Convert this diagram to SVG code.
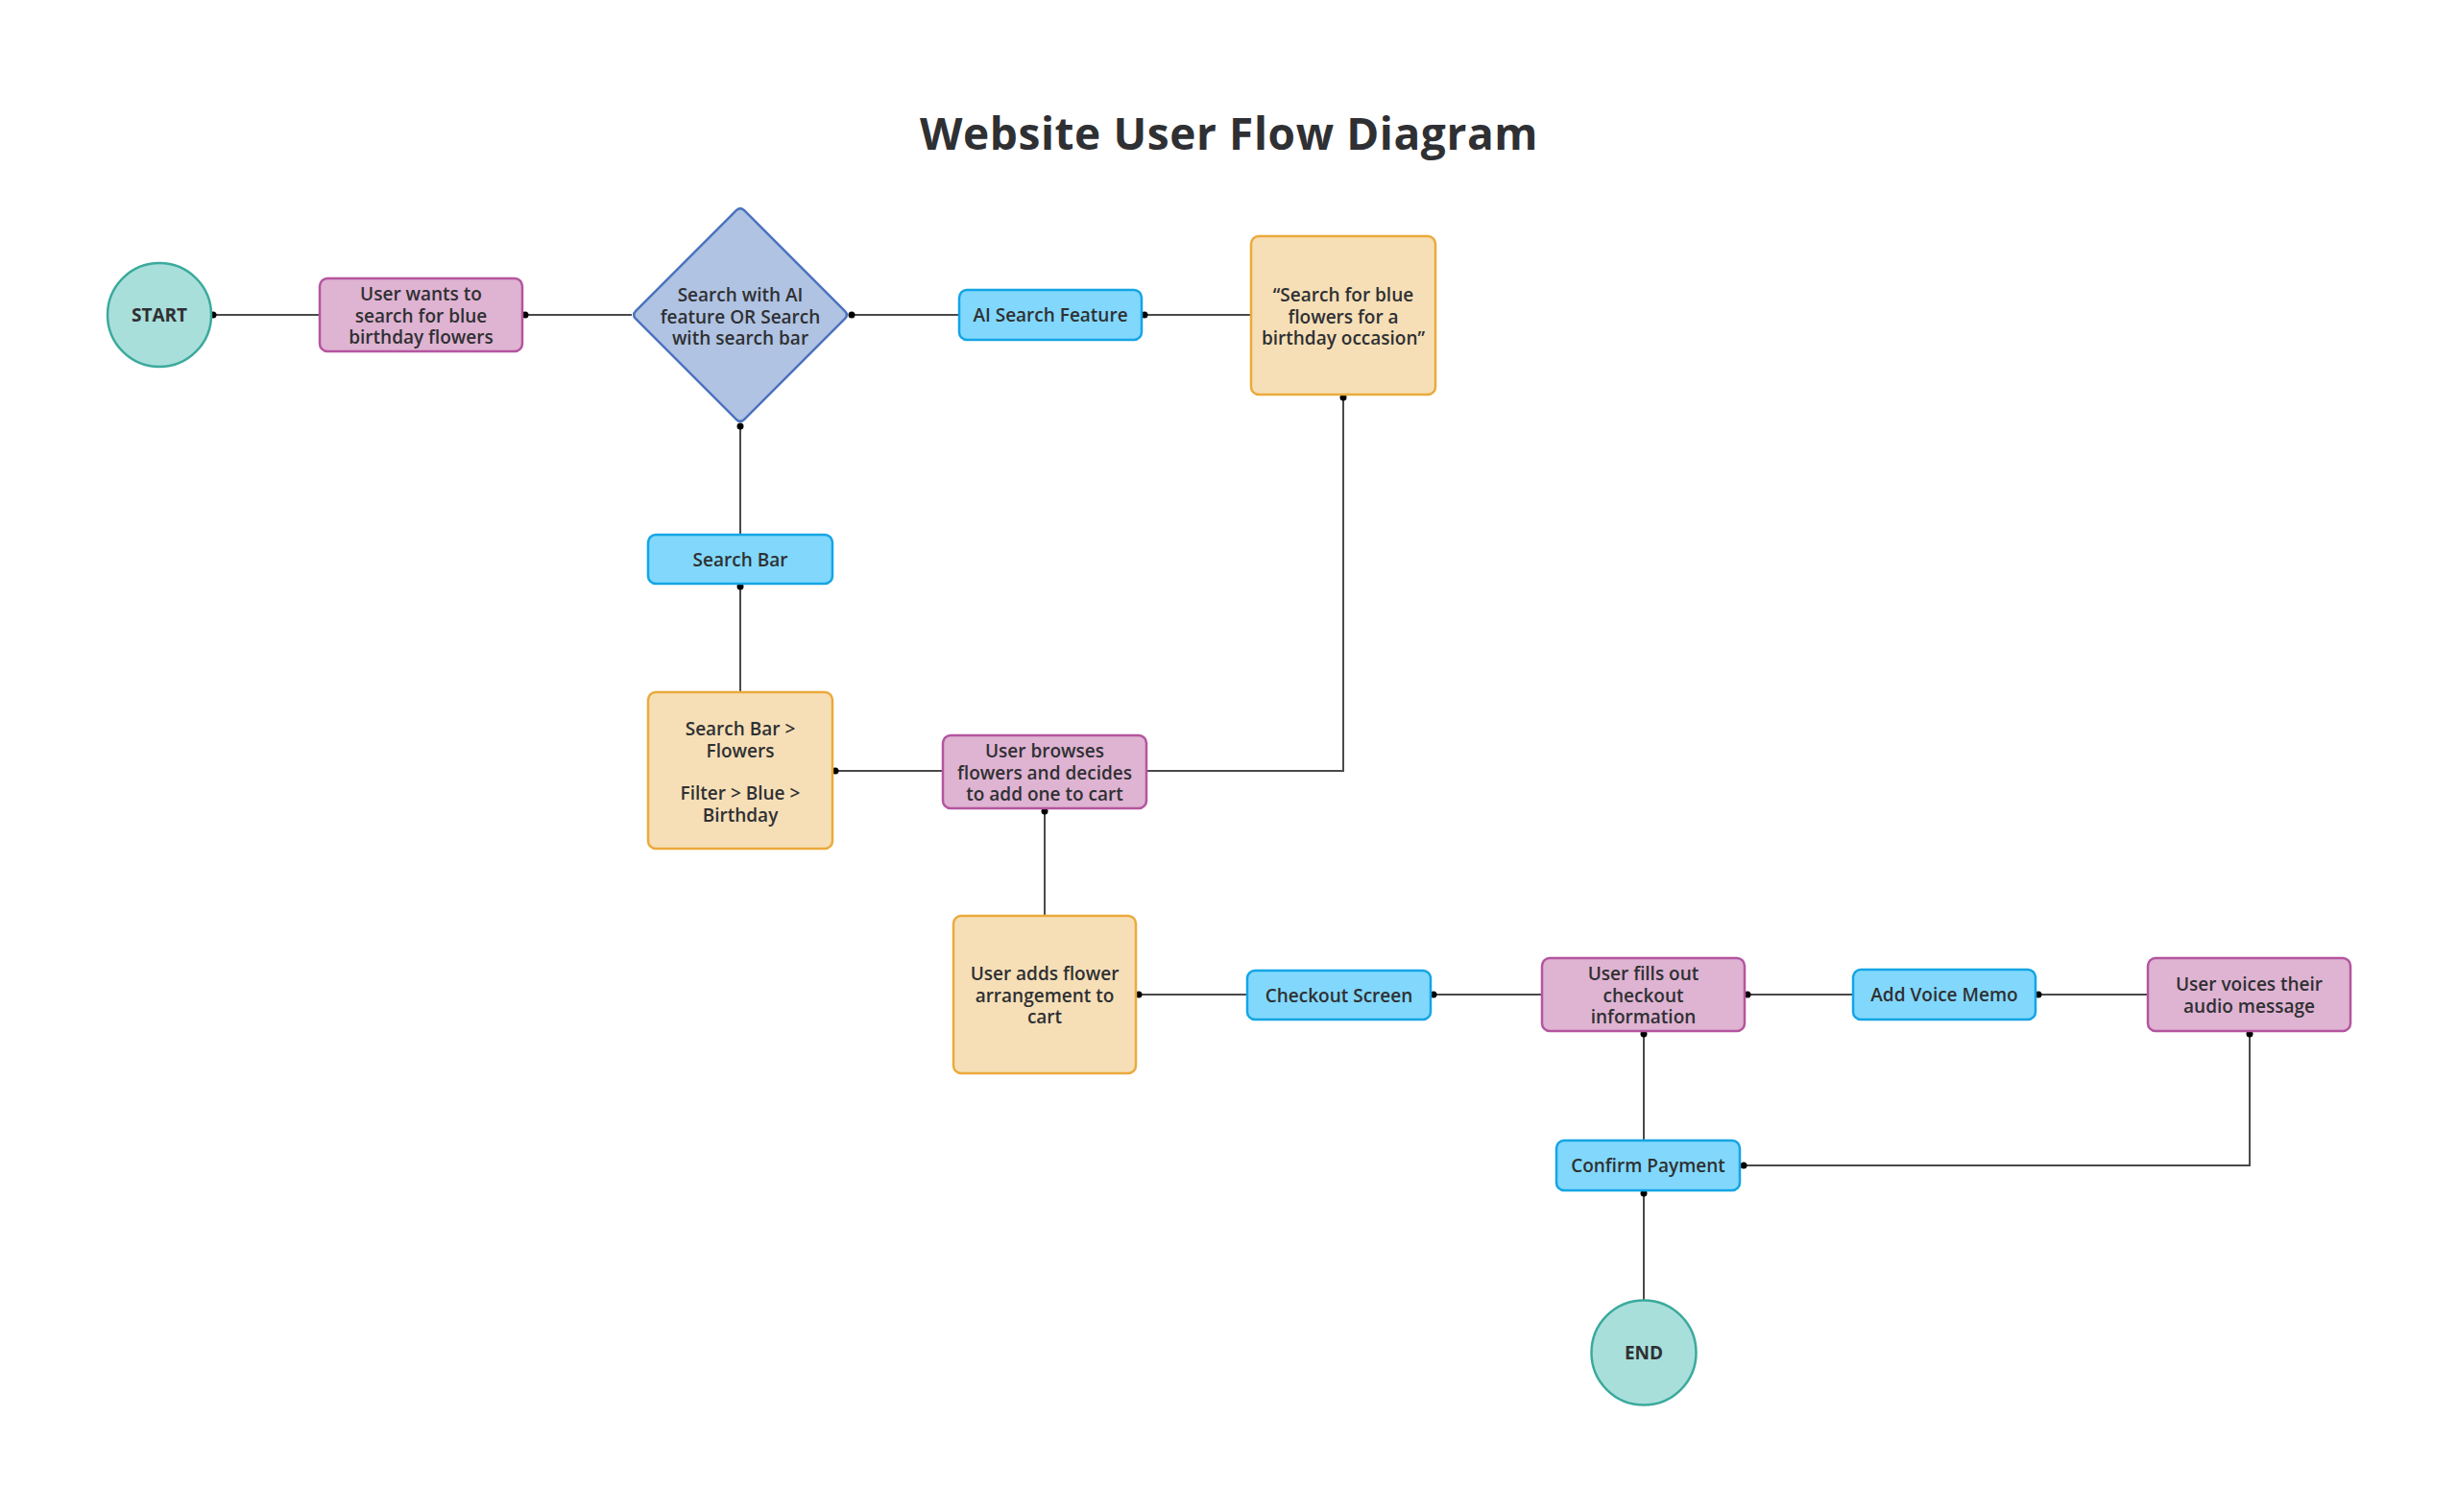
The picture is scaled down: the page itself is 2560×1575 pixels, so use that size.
<svg xmlns="http://www.w3.org/2000/svg" width="2560" height="1575" viewBox="0 0 2560 1575">
<style>
  .t { font-family: "Open Sans", "Liberation Sans", sans-serif; font-size: 19px; font-weight: 600; fill: #2f3033; text-anchor: middle; dominant-baseline: central; }
  .tb { font-weight: 700; }
  .title { font-family: "Open Sans", "Liberation Sans", sans-serif; font-size: 46px; font-weight: 700; fill: #2f3033; text-anchor: middle; letter-spacing: 0.6px; }
  .term { fill: #a9dfdb; stroke: #3baa9d; stroke-width: 2.5; }
  .pink { fill: #dfb3d2; stroke: #b4559f; stroke-width: 2.5; }
  .dia { fill: #b0c3e2; stroke: #4c72bf; stroke-width: 2.5; }
  .blue { fill: #81d8fc; stroke: #14a5e5; stroke-width: 2.5; }
  .orange { fill: #f6dfb7; stroke: #ebaa3c; stroke-width: 2.5; }
  .conn path { fill: none; stroke: #4a4a4a; stroke-width: 2; }
  .conn circle { fill: #000; }
</style>
<rect width="2560" height="1575" fill="#ffffff"/>
<text class="title" x="1280" y="156">Website User Flow Diagram</text>

<g id="connectors" class="conn">
  <path d="M222,328 H333"/><circle cx="222" cy="328" r="3.5"/>
  <path d="M547,328 H658"/><circle cx="547" cy="328" r="3.5"/>
  <path d="M887,328 H999"/><circle cx="887" cy="328" r="3.5"/>
  <path d="M1192,328 H1303"/><circle cx="1192" cy="328" r="3.5"/>
  <path d="M771,444 V557"/><circle cx="771" cy="444" r="3.5"/>
  <path d="M771,611 V721"/><circle cx="771" cy="611" r="3.5"/>
  <path d="M1399,414 V803 H1194"/><circle cx="1399" cy="414" r="3.5"/>
  <path d="M870,803 H982"/><circle cx="870" cy="803" r="3.5"/>
  <path d="M1088,845 V954"/><circle cx="1088" cy="845" r="3.5"/>
  <path d="M1186,1036 H1299"/><circle cx="1186" cy="1036" r="3.5"/>
  <path d="M1493,1036 H1606"/><circle cx="1493" cy="1036" r="3.5"/>
  <path d="M1820,1036 H1930"/><circle cx="1820" cy="1036" r="3.5"/>
  <path d="M2123,1036 H2237"/><circle cx="2123" cy="1036" r="3.5"/>
  <path d="M2343,1077 V1214 H1815"/><circle cx="2343" cy="1077" r="3.5"/><circle cx="1816" cy="1214" r="3.5"/>
  <path d="M1712,1077 V1188"/><circle cx="1712" cy="1077" r="3.5"/>
  <path d="M1712,1243 V1354"/><circle cx="1712" cy="1243" r="3.5"/>
</g>

<g id="start">
  <circle class="term" cx="166" cy="328" r="54"/>
  <text class="t tb" x="166" y="328">START</text>
</g>
<g id="user-wants">
  <rect class="pink" x="333" y="290" width="211" height="76" rx="8"/>
  <text class="t" x="438.5" y="306">User wants to</text>
  <text class="t" x="438.5" y="328.5">search for blue</text>
  <text class="t" x="438.5" y="351">birthday flowers</text>
</g>
<g id="decision">
  <path class="dia" d="M775.2,219.2 L879.8,323.8 Q884,328 879.8,332.2 L775.2,436.8 Q771,441 766.8,436.8 L662.2,332.2 Q658,328 662.2,323.8 L766.8,219.2 Q771,215 775.2,219.2 Z"/>
  <text class="t" x="771" y="307">Search with AI</text>
  <text class="t" x="771" y="329.5">feature OR Search</text>
  <text class="t" x="771" y="352">with search bar</text>
</g>
<g id="ai-search">
  <rect class="blue" x="999" y="302" width="190" height="52" rx="8"/>
  <text class="t" x="1094" y="328">AI Search Feature</text>
</g>
<g id="ai-query">
  <rect class="orange" x="1303" y="246" width="192" height="165" rx="8"/>
  <text class="t" x="1399" y="307">“Search for blue</text>
  <text class="t" x="1399" y="329.5">flowers for a</text>
  <text class="t" x="1399" y="352">birthday occasion”</text>
</g>
<g id="search-bar">
  <rect class="blue" x="675" y="557" width="192" height="51" rx="8"/>
  <text class="t" x="771" y="583">Search Bar</text>
</g>
<g id="search-filter">
  <rect class="orange" x="675" y="721" width="192" height="163" rx="8"/>
  <text class="t" x="771" y="759">Search Bar &gt;</text>
  <text class="t" x="771" y="781.5">Flowers</text>
  <text class="t" x="771" y="826">Filter &gt; Blue &gt;</text>
  <text class="t" x="771" y="848.5">Birthday</text>
</g>
<g id="browses">
  <rect class="pink" x="982" y="766" width="212" height="76" rx="8"/>
  <text class="t" x="1088" y="782">User browses</text>
  <text class="t" x="1088" y="804.5">flowers and decides</text>
  <text class="t" x="1088" y="827">to add one to cart</text>
</g>
<g id="add-to-cart">
  <rect class="orange" x="993" y="954" width="190" height="164" rx="8"/>
  <text class="t" x="1088" y="1014">User adds flower</text>
  <text class="t" x="1088" y="1036.5">arrangement to</text>
  <text class="t" x="1088" y="1059">cart</text>
</g>
<g id="checkout">
  <rect class="blue" x="1299" y="1011" width="191" height="51" rx="8"/>
  <text class="t" x="1394.5" y="1036.5">Checkout Screen</text>
</g>
<g id="fills-out">
  <rect class="pink" x="1606" y="998" width="211" height="76" rx="8"/>
  <text class="t" x="1711.5" y="1014">User fills out</text>
  <text class="t" x="1711.5" y="1036.5">checkout</text>
  <text class="t" x="1711.5" y="1059">information</text>
</g>
<g id="voice-memo">
  <rect class="blue" x="1930" y="1010" width="190" height="52" rx="8"/>
  <text class="t" x="2025" y="1036">Add Voice Memo</text>
</g>
<g id="voices">
  <rect class="pink" x="2237" y="998" width="211" height="76" rx="8"/>
  <text class="t" x="2342.5" y="1025">User voices their</text>
  <text class="t" x="2342.5" y="1047.5">audio message</text>
</g>
<g id="confirm">
  <rect class="blue" x="1621" y="1188" width="191" height="52" rx="8"/>
  <text class="t" x="1716.5" y="1214">Confirm Payment</text>
</g>
<g id="end">
  <circle class="term" cx="1712" cy="1409" r="54.5"/>
  <text class="t tb" x="1712" y="1409">END</text>
</g>
</svg>
